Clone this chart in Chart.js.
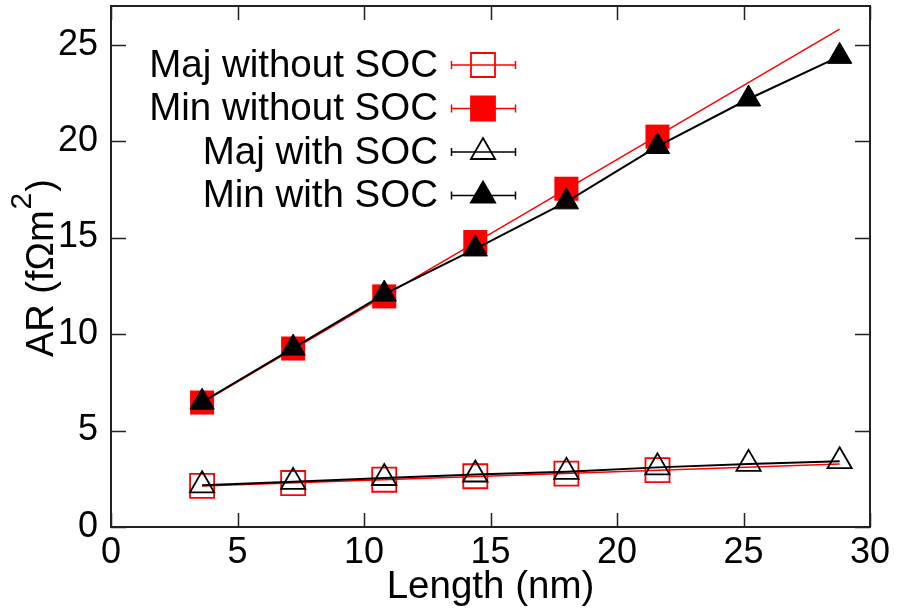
<!DOCTYPE html>
<html>
<head>
<meta charset="utf-8">
<script src="https://cdn.jsdelivr.net/npm/chart.js@4"></script>
<style>
  html, body { margin: 0; padding: 0; background: #fff; }
  #wrap { width: 898px; height: 613px; }
</style>
</head>
<body>
<div id="wrap"><canvas id="myChart"></canvas></div>
<script>
// lengths (nm) and AR values
const lengths = [3.6, 7.2, 10.8, 14.4, 18.0, 21.6, 25.2, 28.8];
const majNoSoc = [2.13, 2.28, 2.45, 2.63, 2.77, 2.95];
const minNoSoc = [6.45, 9.25, 11.95, 14.77, 17.53, 20.23];
const majSoc = [2.16, 2.34, 2.54, 2.72, 2.86, 3.09, 3.27, 3.41];
const minSoc = [6.47, 9.27, 12.07, 14.41, 16.85, 19.72, 22.18, 24.39];

// straight red lines (fits) for the "without SOC" sets
const fitX = [3.6, 28.8];
const majNoSocFit = [2.13, 3.27];
const minNoSocFit = [6.45, 25.8];

const xTicks = [0, 5, 10, 15, 20, 25, 30];
const yTicks = [0, 5, 10, 15, 20, 25];

const FONT = '"Liberation Sans", Arial, sans-serif';
const RED = '#ff0000';
const BLACK = '#000000';

const pts = (xs, ys) => ys.map((v, i) => ({ x: xs[i], y: v }));

const frame = {
  id: 'frame',
  afterDraw(chart) {
    const { ctx, chartArea: a, scales: { x, y } } = chart;
    ctx.save();
    ctx.strokeStyle = '#222';
    ctx.lineWidth = 1.5;
    ctx.beginPath();
    xTicks.forEach(v => {
      const px = Math.round(x.getPixelForValue(v)) + 0.5;
      ctx.moveTo(px, a.bottom); ctx.lineTo(px, a.bottom - 14);
      ctx.moveTo(px, a.top); ctx.lineTo(px, a.top + 14);
    });
    yTicks.forEach(v => {
      const py = Math.round(y.getPixelForValue(v)) + 0.5;
      ctx.moveTo(a.left, py); ctx.lineTo(a.left + 15, py);
      ctx.moveTo(a.right, py); ctx.lineTo(a.right - 15, py);
    });
    ctx.stroke();
    ctx.lineWidth = 2;
    ctx.strokeRect(a.left, a.top, a.right - a.left, a.bottom - a.top);

    // y axis title with a real superscript
    ctx.translate(53, 357);
    ctx.rotate(-Math.PI / 2);
    ctx.fillStyle = BLACK;
    ctx.textBaseline = 'alphabetic';
    ctx.textAlign = 'left';
    ctx.font = '38px ' + FONT;
    const base = 'AR (f\u03A9m';
    ctx.fillText(base, 0, 0);
    let w = ctx.measureText(base).width;
    ctx.font = '30px ' + FONT;
    ctx.fillText('2', w + 1, -22);
    w += ctx.measureText('2').width + 2;
    ctx.font = '38px ' + FONT;
    ctx.fillText(')', w, 0);
    ctx.restore();
  }
};

function marker(ctx, style, x, y, fill, stroke) {
  ctx.beginPath();
  if (style === 'rect') {
    ctx.rect(x - 12, y - 12, 24, 24);
  } else {
    const r = 14;
    ctx.moveTo(x, y - r);
    ctx.lineTo(x + r * Math.sin(2 * Math.PI / 3), y + r / 2);
    ctx.lineTo(x - r * Math.sin(2 * Math.PI / 3), y + r / 2);
    ctx.closePath();
  }
  if (fill !== 'transparent') { ctx.fillStyle = fill; ctx.fill(); }
  ctx.strokeStyle = stroke; ctx.lineWidth = 1.8; ctx.stroke();
}

const keyBox = {
  id: 'keyBox',
  afterDraw(chart) {
    const ctx = chart.ctx;
    const items = chart.data.datasets.filter(d => d.inKey);
    ctx.save();
    ctx.font = '38.5px ' + FONT;
    ctx.textAlign = 'right';
    ctx.textBaseline = 'middle';
    items.forEach((d, i) => {
      const yy = 65 + i * 43.5;
      ctx.fillStyle = BLACK;
      ctx.fillText(d.label, 438, yy + 1);
      ctx.strokeStyle = d.borderColor;
      ctx.lineWidth = 1.5;
      ctx.beginPath();
      ctx.moveTo(451, yy); ctx.lineTo(516, yy);
      ctx.moveTo(451.5, yy - 4); ctx.lineTo(451.5, yy + 4);
      ctx.moveTo(515.5, yy - 4); ctx.lineTo(515.5, yy + 4);
      ctx.stroke();
      marker(ctx, d.pointStyle, 483, yy, d.backgroundColor, d.borderColor);
    });
    ctx.restore();
  }
};

const ctx = document.getElementById('myChart').getContext('2d');
new Chart(ctx, {
  type: 'scatter',
  data: {
    datasets: [
      {
        label: 'Maj without SOC', inKey: true,
        data: pts(lengths, majNoSoc),
        pointStyle: 'rect', pointRadius: 17, pointBorderWidth: 1.8,
        borderColor: RED, backgroundColor: 'transparent',
        showLine: false, order: 4
      },
      {
        label: 'Min without SOC', inKey: true,
        data: pts(lengths, minNoSoc),
        pointStyle: 'rect', pointRadius: 17, pointBorderWidth: 0,
        borderColor: RED, backgroundColor: RED,
        showLine: false, order: 3
      },
      {
        label: 'Maj with SOC', inKey: true,
        data: pts(lengths, majSoc),
        pointStyle: 'triangle', pointRadius: 14, pointBorderWidth: 1.8,
        borderColor: BLACK, backgroundColor: 'transparent',
        showLine: true, borderWidth: 2, order: 2
      },
      {
        label: 'Min with SOC', inKey: true,
        data: pts(lengths, minSoc),
        pointStyle: 'triangle', pointRadius: 14, pointBorderWidth: 1,
        borderColor: BLACK, backgroundColor: BLACK,
        showLine: true, borderWidth: 2, order: 1
      },
      {
        label: 'fit maj', data: pts(fitX, majNoSocFit),
        pointRadius: 0, showLine: true, borderColor: RED, borderWidth: 1.5, order: 5
      },
      {
        label: 'fit min', data: pts(fitX, minNoSocFit),
        pointRadius: 0, showLine: true, borderColor: RED, borderWidth: 1.5, order: 5
      }
    ]
  },
  options: {
    responsive: true,
    maintainAspectRatio: false,
    animation: false,
    layout: { autoPadding: false, padding: { top: 6, right: 28, left: 0, bottom: 0 } },
    plugins: { legend: { display: false }, tooltip: { enabled: false } },
    scales: {
      x: {
        type: 'linear', min: 0, max: 30,
        afterBuildTicks: s => { s.ticks = xTicks.map(v => ({ value: v })); },
        afterFit: s => { s.height = 86; s.paddingLeft = 0; s.paddingRight = 0; },
        grid: { display: false, drawTicks: false },
        border: { display: false },
        ticks: { color: BLACK, padding: 4, maxRotation: 0, font: { family: FONT, size: 36 } },
        title: { display: true, text: 'Length (nm)', color: BLACK, padding: { top: 0, bottom: 3 }, font: { family: FONT, size: 38.5 } }
      },
      y: {
        type: 'linear', min: 0, max: 27,
        afterBuildTicks: s => { s.ticks = yTicks.map(v => ({ value: v })); },
        afterFit: s => { s.width = 111; s.paddingTop = 0; s.paddingBottom = 0; },
        grid: { display: false, drawTicks: false },
        border: { display: false },
        ticks: { color: BLACK, padding: 13, font: { family: FONT, size: 36 } },
        title: { display: false }
      }
    }
  },
  plugins: [frame, keyBox]
});
</script>
</body>
</html>
